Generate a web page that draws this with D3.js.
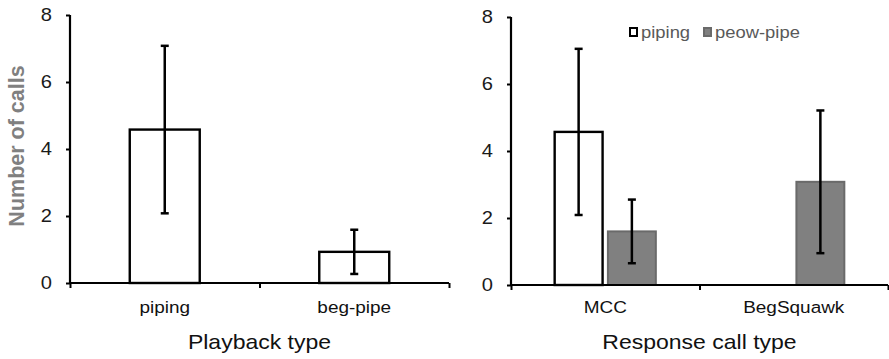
<!DOCTYPE html>
<html>
<head>
<meta charset="utf-8">
<script src="https://cdn.jsdelivr.net/npm/d3@7"></script>
<style>
  html, body { margin: 0; padding: 0; background: #fff; }
  svg { display: block; font-family: "Liberation Sans", Arial, sans-serif; }
</style>
</head>
<body>
<svg id="chart" width="889" height="359"></svg>
<script>
// ---- data ----
const leftCategories = ["piping", "beg-pipe"];
const leftMeans = [4.58, 0.93];
const leftErrors = [2.5, 0.66];

const rightCategories = ["MCC", "BegSquawk"];
const seriesNames = ["piping", "peow-pipe"];
const pipingMeans = [4.57, 0];
const pipingErrors = [2.48, 0];
const peowMeans = [1.6, 3.08];
const peowErrors = [0.95, 2.13];

const yTicks = [0, 2, 4, 6, 8];
const leftXTitle = "Playback type";
const rightXTitle = "Response call type";
const yTitle = "Number of calls";

// ---- drawing ----
const SX = 1.15; // horizontal text stretch as in the reference
const svg = d3.select("#chart");
const fills = { "piping": "#ffffff", "peow-pipe": "#808080" };
const strokes = { "piping": "#000000", "peow-pipe": "#6a6a6a" };

function stretchedText(parent, x, y, str, size, anchor, fill) {
  return parent.append("text")
    .attr("transform", `translate(${x},${y}) scale(${SX},1)`)
    .attr("text-anchor", anchor).attr("font-size", size).attr("fill", fill)
    .text(str);
}

function drawPanel(opts) {
  const { x0, x1, yTop, yBot, cats, series, xTitle } = opts;
  const g = svg.append("g");
  const y = d3.scaleLinear().domain([0, 8]).range([yBot, yTop]);
  const x = d3.scaleBand().domain(cats).range([x0, x1]).padding(0);
  const inner = d3.scaleBand().domain(series.map(s => s.name))
    .range([0, x.bandwidth()]).paddingInner(opts.pi).paddingOuter(opts.po);

  // bars
  series.forEach(s => {
    cats.forEach((c, i) => {
      const v = s.means[i];
      if (v <= 0) return;
      const bx = x(c) + inner(s.name);
      g.append("rect")
        .attr("x", bx).attr("y", y(v))
        .attr("width", inner.bandwidth()).attr("height", y(0) - y(v))
        .attr("fill", fills[s.name]).attr("stroke", strokes[s.name])
        .attr("stroke-width", s.name === "piping" ? 2.4 : 2);
    });
  });
  // error bars
  series.forEach(s => {
    cats.forEach((c, i) => {
      const v = s.means[i], e = s.errs[i];
      if (e <= 0) return;
      const cx = x(c) + inner(s.name) + inner.bandwidth() / 2;
      const eg = g.append("g").attr("stroke", "#000").attr("stroke-width", 2.5);
      eg.append("line").attr("x1", cx).attr("x2", cx).attr("y1", y(v + e)).attr("y2", y(v - e));
      eg.append("line").attr("x1", cx - 4).attr("x2", cx + 4).attr("y1", y(v + e)).attr("y2", y(v + e));
      eg.append("line").attr("x1", cx - 4).attr("x2", cx + 4).attr("y1", y(v - e)).attr("y2", y(v - e));
    });
  });

  // y axis
  const ya = g.append("g").attr("transform", `translate(${x0},0)`)
    .call(d3.axisLeft(y).tickValues(yTicks).tickSize(4).tickPadding(11.7).tickFormat(d3.format("d")));
  ya.select(".domain").attr("stroke", "#000").attr("stroke-width", 2.2)
    .attr("d", `M0,${yTop}V${yBot}`);
  ya.selectAll(".tick line").attr("stroke", "#000").attr("stroke-width", 2);
  ya.selectAll(".tick text").attr("font-size", 17.5).attr("fill", "#1a1a1a")
    .attr("font-family", "Liberation Sans, Arial, sans-serif")
    .attr("transform", `scale(${SX},1)`);

  // x axis: boundary ticks
  const xb = d3.scaleLinear().domain([0, cats.length]).range([x0, x1]);
  const xa = g.append("g").attr("transform", `translate(0,${yBot})`)
    .call(d3.axisBottom(xb).tickValues(d3.range(cats.length + 1)).tickSize(5).tickFormat(""));
  xa.select(".domain").attr("stroke", "#000").attr("stroke-width", 2.2).attr("d", `M${x0},0H${x1}`);
  xa.selectAll(".tick line").attr("stroke", "#000").attr("stroke-width", 2);

  // x axis labels
  const xl = g.append("g").attr("transform", `translate(0,${yBot})`)
    .call(d3.axisBottom(x).tickSize(0).tickPadding(opts.labelPad));
  xl.select(".domain").remove();
  xl.selectAll(".tick text").attr("font-size", 16.5).attr("fill", "#111")
    .attr("font-family", "Liberation Sans, Arial, sans-serif")
    .attr("transform", `scale(${SX},1)`);

  // x title
  stretchedText(g, (x0 + x1) / 2, 349, xTitle, 20, "middle", "#111");
  return { g, x, y, inner };
}

drawPanel({
  x0: 70, x1: 449, yTop: 15, yBot: 283, cats: leftCategories,
  series: [{ name: "piping", means: leftMeans, errs: leftErrors }],
  pi: 0, po: 0.854, xTitle: leftXTitle, labelPad: 18
});

drawPanel({
  x0: 511, x1: 888, yTop: 17, yBot: 285, cats: rightCategories,
  series: [
    { name: "piping", means: pipingMeans, errs: pipingErrors },
    { name: "peow-pipe", means: peowMeans, errs: peowErrors }
  ],
  pi: 0.1, po: 0.82, xTitle: rightXTitle, labelPad: 16
});

// y title
svg.append("text")
  .attr("transform", "translate(24,146) rotate(-90)")
  .attr("text-anchor", "middle").attr("font-size", 21.5).attr("font-weight", "bold")
  .attr("fill", "#808080").text(yTitle);

// legend
const legX = [630, 704];
const leg = svg.append("g");
seriesNames.forEach((n, i) => {
  leg.append("rect").attr("x", legX[i]).attr("y", 28).attr("width", 7).attr("height", 8)
    .attr("fill", fills[n]).attr("stroke", n === "piping" ? "#000" : "#6a6a6a").attr("stroke-width", 2);
  stretchedText(leg, legX[i] + 11, 38, n, 16, "start", "#595959");
});
</script>
</body>
</html>
